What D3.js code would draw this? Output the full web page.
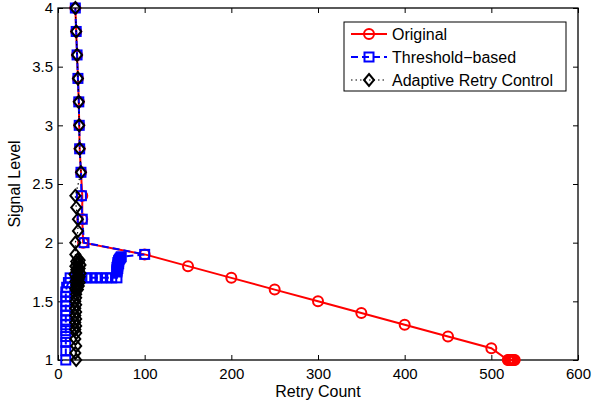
<!DOCTYPE html>
<html>
<head>
<meta charset="utf-8">
<script src="https://d3js.org/d3.v7.min.js"></script>
<style>
  body { margin: 0; background: #fff; }
  svg { display: block; font-family: "Liberation Sans", Arial, sans-serif; }
  .axis text { font-size: 15px; fill: #000; }
</style>
</head>
<body>
<svg id="chart" width="594" height="402"></svg>
<script>
// data
var xTicks = [0, 100, 200, 300, 400, 500, 600];
var yTicks = [1, 1.5, 2, 2.5, 3, 3.5, 4];

var originalX = [20, 21, 22, 23, 24, 24.5, 25, 26.5, 28, 28, 29, 100, 150, 200, 250, 300, 350, 400, 450, 500,
  519, 520, 521, 522, 523, 524, 525, 526, 527];
var originalY = [4, 3.8, 3.6, 3.4, 3.2, 3, 2.8, 2.6, 2.4, 2.2, 2, 1.9, 1.8, 1.7, 1.6, 1.5, 1.4, 1.3, 1.2, 1.1,
  1, 1, 1, 1, 1, 1, 1, 1, 1];

var thresholdX = [20, 21, 22, 23, 24, 24.5, 25, 26.5, 27, 28, 30, 100,
  73, 72, 71, 70, 70, 69, 70, 69, 69, 68, 69, 68, 68, 68, 68,
  62, 56, 50, 44, 38, 32, 26, 20, 14,
  12, 10, 9, 9, 9, 9, 9, 9, 9, 9, 9, 9, 9, 9, 9];
var thresholdY = [4, 3.8, 3.6, 3.4, 3.2, 3, 2.8, 2.6, 2.4, 2.2, 2, 1.9,
  1.88, 1.87, 1.86, 1.85, 1.84, 1.83, 1.82, 1.81, 1.8, 1.79, 1.78, 1.77, 1.76, 1.75, 1.7,
  1.7, 1.7, 1.7, 1.7, 1.7, 1.7, 1.7, 1.7, 1.7,
  1.66, 1.62, 1.58, 1.54, 1.5, 1.46, 1.42, 1.38, 1.34, 1.3, 1.25, 1.2, 1.15, 1.08, 1];

var adaptiveX = [20, 21, 22, 23, 24, 24.5, 25, 26.5, 20, 21, 23, 23, 20, 20,
  23, 25, 21, 24, 22, 26, 20, 23, 25, 21, 24, 22, 26, 19, 23, 25, 21, 24, 22, 20, 25, 23, 21, 24, 22, 20, 23, 21,
  21, 21, 20, 21, 20, 21, 20, 21, 20, 21, 20, 21, 20, 21, 20, 21];
var adaptiveY = [4, 3.8, 3.6, 3.4, 3.2, 3, 2.8, 2.6, 2.4, 2.3, 2.2, 2.1, 2, 1.9,
  1.86, 1.85, 1.84, 1.83, 1.82, 1.81, 1.8, 1.79, 1.78, 1.77, 1.76, 1.75, 1.74, 1.73, 1.72, 1.71, 1.7, 1.69, 1.68, 1.67, 1.66, 1.65, 1.64, 1.63, 1.62, 1.61, 1.6, 1.59,
  1.56, 1.53, 1.5, 1.47, 1.44, 1.41, 1.38, 1.35, 1.32, 1.29, 1.26, 1.23, 1.18, 1.12, 1.06, 1];

var seriesNames = ['Original', 'Threshold\u2212based', 'Adaptive Retry Control'];

var margin = {top: 8, right: 16, bottom: 42, left: 58},
  width = 594 - margin.left - margin.right,
  height = 402 - margin.top - margin.bottom;

var x = d3.scaleLinear().domain([0, 600]).range([0, width]);
var y = d3.scaleLinear().domain([1, 4]).range([height, 0]);

var svg = d3.select('#chart');
var g = svg.append('g')
  .attr('transform', 'translate(' + margin.left + ',' + margin.top + ')');

svg.append('defs').append('clipPath').attr('id', 'plotclip')
  .append('rect').attr('x', -8).attr('y', -8).attr('width', width + 16).attr('height', height + 16);

// axes, ticks pointing inward like matlab
g.append('g')
  .attr('class', 'axis')
  .attr('transform', 'translate(0,' + height + ')')
  .call(d3.axisBottom(x).tickValues(xTicks).tickSizeInner(-5).tickSizeOuter(0).tickPadding(8));
g.append('g')
  .attr('class', 'axis')
  .call(d3.axisLeft(y).tickValues(yTicks).tickSizeInner(-5).tickSizeOuter(0).tickPadding(5)
    .tickFormat(d3.format('')));
g.append('g')
  .attr('class', 'axis')
  .call(d3.axisTop(x).tickValues(xTicks).tickSizeInner(-5).tickSizeOuter(0).tickFormat(''));
g.append('g')
  .attr('class', 'axis')
  .attr('transform', 'translate(' + width + ',0)')
  .call(d3.axisRight(y).tickValues(yTicks).tickSizeInner(-5).tickSizeOuter(0).tickFormat(''));

g.selectAll('.axis .domain').remove();
g.selectAll('.axis line').attr('stroke', '#000').attr('stroke-width', 1);
g.append('rect')
  .attr('width', width).attr('height', height)
  .attr('fill', 'none').attr('stroke', '#000').attr('stroke-width', 1.3);

// labels
svg.append('text')
  .attr('x', margin.left + width / 2).attr('y', 397)
  .attr('text-anchor', 'middle').attr('font-size', 16)
  .text('Retry Count');
svg.append('text')
  .attr('transform', 'translate(20,' + (margin.top + height / 2) + ') rotate(-90)')
  .attr('text-anchor', 'middle').attr('font-size', 16)
  .text('Signal Level');

function zip(xs, ys) { return xs.map(function(v, i) { return [v, ys[i]]; }); }

var series = [
  {name: seriesNames[0], data: zip(originalX, originalY), color: '#ff0000', dash: null, width: 2, marker: 'circle'},
  {name: seriesNames[1], data: zip(thresholdX, thresholdY), color: '#0000ff', dash: '7,4', width: 2, marker: 'square'},
  {name: seriesNames[2], data: zip(adaptiveX, adaptiveY), color: '#000000', dash: '1.5,3', width: 1.2, marker: 'diamond'}
];

var line = d3.line()
  .x(function(d) { return x(d[0]); })
  .y(function(d) { return y(d[1]); });

function drawMarker(sel, type, color) {
  if (type === 'circle') {
    sel.append('circle').attr('r', 5);
  } else if (type === 'square') {
    sel.append('rect').attr('x', -4.5).attr('y', -4.5).attr('width', 9).attr('height', 9);
  } else {
    sel.append('path').attr('d', 'M0,-6L5,0L0,6L-5,0Z');
  }
  sel.selectAll('*')
    .attr('fill', 'none')
    .attr('stroke', color)
    .attr('stroke-width', 2);
}

var plot = g.append('g').attr('clip-path', 'url(#plotclip)');

series.forEach(function(s) {
  plot.append('path')
    .datum(s.data)
    .attr('d', line)
    .attr('fill', 'none')
    .attr('stroke', s.color)
    .attr('stroke-width', s.width)
    .attr('stroke-dasharray', s.dash);

  plot.selectAll(null)
    .data(s.data)
    .enter().append('g')
    .attr('transform', function(d) { return 'translate(' + x(d[0]) + ',' + y(d[1]) + ')'; })
    .each(function() { drawMarker(d3.select(this), s.marker, s.color); });
});

// legend
var legend = svg.append('g').attr('transform', 'translate(344,22)');
legend.append('rect')
  .attr('width', 222).attr('height', 69)
  .attr('fill', '#fff').attr('stroke', '#000').attr('stroke-width', 1);

var rows = legend.selectAll('.row')
  .data(series)
  .enter().append('g')
  .attr('class', 'row')
  .attr('transform', function(d, i) { return 'translate(0,' + (12 + i * 23) + ')'; });

rows.append('line')
  .attr('x1', 7).attr('x2', 43)
  .attr('stroke', function(d) { return d.color; })
  .attr('stroke-width', function(d) { return d.width; })
  .attr('stroke-dasharray', function(d) { return d.dash; });
rows.append('g')
  .attr('transform', 'translate(25,0)')
  .each(function(d) { drawMarker(d3.select(this), d.marker, d.color); });
rows.append('text')
  .attr('x', 48).attr('dy', '0.35em')
  .attr('font-size', 16)
  .text(function(d) { return d.name; });
</script>
</body>
</html>
